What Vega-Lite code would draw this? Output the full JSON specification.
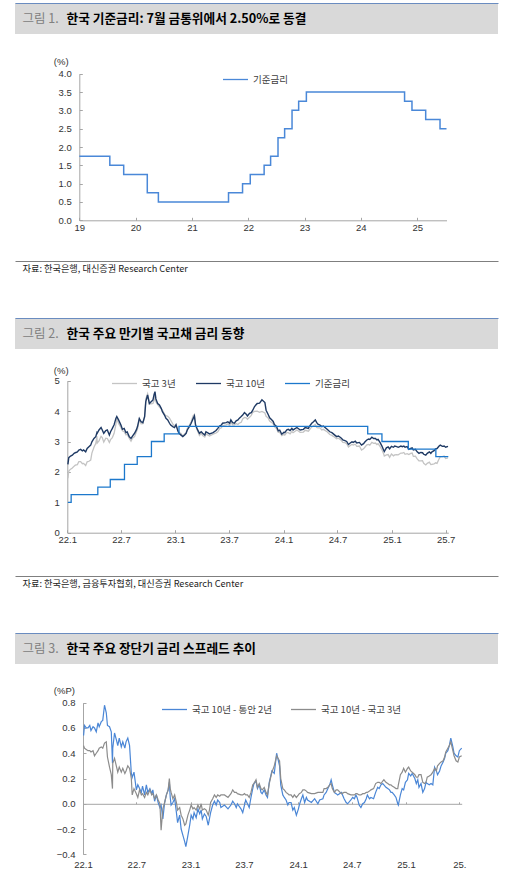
{
  "$schema": "https://vega.github.io/schema/vega-lite/v6.json",
  "padding": {"left": 15, "top": 3, "right": 8, "bottom": 0},
  "bounds": "flush",
  "spacing": 0,
  "resolve": {"scale": {"color": "independent"}, "legend": {"color": "independent"}},
  "config": {
    "view": {"stroke": null},
    "font": "Liberation Sans",
    "axis": {
      "grid": false, "domainColor": "#a6a6a6", "tickColor": "#a6a6a6", "domainWidth": 1, "tickWidth": 1,
      "labelColor": "#333333", "labelFont": "Liberation Sans", "labelFontSize": 9.5,
      "titleFont": "Liberation Sans", "titleFontSize": 9.5, "titleFontWeight": "normal", "titleColor": "#333333",
      "labelFlush": false, "labelOverlap": false
    },
    "legend": {
      "orient": "none", "direction": "horizontal", "title": null, "padding": 0,
      "symbolType": "stroke", "symbolSize": 625, "symbolStrokeWidth": 1.3,
      "labelFont": "Noto Sans CJK KR", "labelFontSize": 9.5, "labelColor": "#404040", "labelOffset": 4
    }
  },
  "datasets": {
    "base1": [
      {"d": "2019-01-01", "v": 1.75}, {"d": "2019-07-18", "v": 1.5}, {"d": "2019-10-16", "v": 1.25},
      {"d": "2020-03-17", "v": 0.75}, {"d": "2020-05-28", "v": 0.5}, {"d": "2021-08-26", "v": 0.75},
      {"d": "2021-11-25", "v": 1.0}, {"d": "2022-01-14", "v": 1.25}, {"d": "2022-04-14", "v": 1.5},
      {"d": "2022-05-26", "v": 1.75}, {"d": "2022-07-13", "v": 2.25}, {"d": "2022-08-25", "v": 2.5},
      {"d": "2022-10-12", "v": 3.0}, {"d": "2022-11-24", "v": 3.25}, {"d": "2023-01-13", "v": 3.5},
      {"d": "2024-10-11", "v": 3.25}, {"d": "2024-11-28", "v": 3.0}, {"d": "2025-02-25", "v": 2.75},
      {"d": "2025-05-29", "v": 2.5}, {"d": "2025-07-10", "v": 2.5}
    ],
    "base2": [
      {"d": "2022-01-03", "v": 1.0}, {"d": "2022-01-14", "v": 1.25}, {"d": "2022-04-14", "v": 1.5},
      {"d": "2022-05-26", "v": 1.75}, {"d": "2022-07-13", "v": 2.25}, {"d": "2022-08-25", "v": 2.5},
      {"d": "2022-10-12", "v": 3.0}, {"d": "2022-11-24", "v": 3.25}, {"d": "2023-01-13", "v": 3.5},
      {"d": "2024-10-11", "v": 3.25}, {"d": "2024-11-28", "v": 3.0}, {"d": "2025-02-25", "v": 2.75},
      {"d": "2025-05-29", "v": 2.5}, {"d": "2025-07-10", "v": 2.5}
    ],
    "bonds": [
      {"d": "2022-01-03", "y10": 2.25, "y3": 1.79, "a": 0.54, "b": 0.46},
      {"d": "2022-01-06", "y10": 2.47, "y3": 2.03, "a": 0.62, "b": 0.44},
      {"d": "2022-01-12", "y10": 2.52, "y3": 2.09, "a": 0.60, "b": 0.43},
      {"d": "2022-01-18", "y10": 2.55, "y3": 2.13, "a": 0.60, "b": 0.42},
      {"d": "2022-01-24", "y10": 2.61, "y3": 2.19, "a": 0.62, "b": 0.42},
      {"d": "2022-01-28", "y10": 2.63, "y3": 2.22, "a": 0.58, "b": 0.41},
      {"d": "2022-02-04", "y10": 2.66, "y3": 2.24, "a": 0.61, "b": 0.42},
      {"d": "2022-02-09", "y10": 2.72, "y3": 2.34, "a": 0.60, "b": 0.38},
      {"d": "2022-02-15", "y10": 2.74, "y3": 2.34, "a": 0.57, "b": 0.40},
      {"d": "2022-02-21", "y10": 2.69, "y3": 2.27, "a": 0.64, "b": 0.42},
      {"d": "2022-02-25", "y10": 2.72, "y3": 2.28, "a": 0.61, "b": 0.44},
      {"d": "2022-03-04", "y10": 2.66, "y3": 2.21, "a": 0.65, "b": 0.45},
      {"d": "2022-03-09", "y10": 2.77, "y3": 2.33, "a": 0.66, "b": 0.44},
      {"d": "2022-03-15", "y10": 2.83, "y3": 2.35, "a": 0.78, "b": 0.48},
      {"d": "2022-03-21", "y10": 2.88, "y3": 2.39, "a": 0.72, "b": 0.49},
      {"d": "2022-03-25", "y10": 2.99, "y3": 2.62, "a": 0.62, "b": 0.37},
      {"d": "2022-04-01", "y10": 3.10, "y3": 2.81, "a": 0.61, "b": 0.29},
      {"d": "2022-04-07", "y10": 3.16, "y3": 2.93, "a": 0.57, "b": 0.23},
      {"d": "2022-04-11", "y10": 3.29, "y3": 3.17, "a": 0.32, "b": 0.12},
      {"d": "2022-04-12", "y10": 3.27, "y3": 2.95, "a": 0.44, "b": 0.32},
      {"d": "2022-04-18", "y10": 3.38, "y3": 3.02, "a": 0.56, "b": 0.36},
      {"d": "2022-04-25", "y10": 3.46, "y3": 3.17, "a": 0.50, "b": 0.29},
      {"d": "2022-04-29", "y10": 3.38, "y3": 3.13, "a": 0.46, "b": 0.25},
      {"d": "2022-05-04", "y10": 3.27, "y3": 2.98, "a": 0.52, "b": 0.29},
      {"d": "2022-05-11", "y10": 3.36, "y3": 3.11, "a": 0.45, "b": 0.25},
      {"d": "2022-05-16", "y10": 3.38, "y3": 3.10, "a": 0.49, "b": 0.28},
      {"d": "2022-05-23", "y10": 3.21, "y3": 2.97, "a": 0.44, "b": 0.24},
      {"d": "2022-05-27", "y10": 3.32, "y3": 3.06, "a": 0.49, "b": 0.26},
      {"d": "2022-06-02", "y10": 3.43, "y3": 3.13, "a": 0.52, "b": 0.30},
      {"d": "2022-06-08", "y10": 3.55, "y3": 3.27, "a": 0.46, "b": 0.28},
      {"d": "2022-06-14", "y10": 3.76, "y3": 3.56, "a": 0.24, "b": 0.20},
      {"d": "2022-06-17", "y10": 3.82, "y3": 3.75, "a": 0.21, "b": 0.07},
      {"d": "2022-06-23", "y10": 3.71, "y3": 3.59, "a": 0.25, "b": 0.12},
      {"d": "2022-07-01", "y10": 3.54, "y3": 3.46, "a": 0.11, "b": 0.08},
      {"d": "2022-07-06", "y10": 3.40, "y3": 3.35, "a": 0.15, "b": 0.05},
      {"d": "2022-07-12", "y10": 3.43, "y3": 3.32, "a": 0.12, "b": 0.11},
      {"d": "2022-07-18", "y10": 3.29, "y3": 3.22, "a": 0.09, "b": 0.07},
      {"d": "2022-07-22", "y10": 3.32, "y3": 3.24, "a": 0.14, "b": 0.08},
      {"d": "2022-07-29", "y10": 3.16, "y3": 3.11, "a": 0.07, "b": 0.05},
      {"d": "2022-08-04", "y10": 3.10, "y3": 3.01, "a": 0.15, "b": 0.09},
      {"d": "2022-08-09", "y10": 3.18, "y3": 3.11, "a": 0.09, "b": 0.07},
      {"d": "2022-08-16", "y10": 3.27, "y3": 3.16, "a": 0.12, "b": 0.11},
      {"d": "2022-08-22", "y10": 3.38, "y3": 3.31, "a": 0.08, "b": 0.07},
      {"d": "2022-08-26", "y10": 3.49, "y3": 3.41, "a": 0.11, "b": 0.08},
      {"d": "2022-09-01", "y10": 3.76, "y3": 3.72, "a": 0.02, "b": 0.04},
      {"d": "2022-09-07", "y10": 3.65, "y3": 3.58, "a": 0.07, "b": 0.07},
      {"d": "2022-09-13", "y10": 3.62, "y3": 3.59, "a": 0.01, "b": 0.03},
      {"d": "2022-09-19", "y10": 3.82, "y3": 3.82, "a": -0.03, "b": 0.00},
      {"d": "2022-09-23", "y10": 4.31, "y3": 4.40, "a": -0.01, "b": -0.21},
      {"d": "2022-09-29", "y10": 4.53, "y3": 4.57, "a": -0.12, "b": -0.04},
      {"d": "2022-10-05", "y10": 4.25, "y3": 4.24, "a": 0.01, "b": 0.01},
      {"d": "2022-10-11", "y10": 4.31, "y3": 4.24, "a": 0.07, "b": 0.07},
      {"d": "2022-10-17", "y10": 4.36, "y3": 4.25, "a": 0.11, "b": 0.11},
      {"d": "2022-10-21", "y10": 4.55, "y3": 4.35, "a": 0.17, "b": 0.20},
      {"d": "2022-10-24", "y10": 4.64, "y3": 4.52, "a": 0.05, "b": 0.12},
      {"d": "2022-10-27", "y10": 4.40, "y3": 4.31, "a": -0.01, "b": 0.09},
      {"d": "2022-11-02", "y10": 4.25, "y3": 4.21, "a": 0.01, "b": 0.04},
      {"d": "2022-11-08", "y10": 4.20, "y3": 4.13, "a": 0.04, "b": 0.07},
      {"d": "2022-11-14", "y10": 4.09, "y3": 4.08, "a": -0.07, "b": 0.01},
      {"d": "2022-11-18", "y10": 3.98, "y3": 4.03, "a": -0.15, "b": -0.05},
      {"d": "2022-11-25", "y10": 3.87, "y3": 3.90, "a": -0.09, "b": -0.03},
      {"d": "2022-11-30", "y10": 3.76, "y3": 3.85, "a": -0.20, "b": -0.09},
      {"d": "2022-12-06", "y10": 3.71, "y3": 3.83, "a": -0.25, "b": -0.12},
      {"d": "2022-12-12", "y10": 3.60, "y3": 3.77, "a": -0.30, "b": -0.17},
      {"d": "2022-12-16", "y10": 3.54, "y3": 3.70, "a": -0.34, "b": -0.16},
      {"d": "2022-12-23", "y10": 3.49, "y3": 3.58, "a": -0.25, "b": -0.09},
      {"d": "2022-12-29", "y10": 3.46, "y3": 3.51, "a": -0.17, "b": -0.05},
      {"d": "2023-01-03", "y10": 3.55, "y3": 3.56, "a": -0.09, "b": -0.01},
      {"d": "2023-01-09", "y10": 3.35, "y3": 3.39, "a": -0.12, "b": -0.04},
      {"d": "2023-01-13", "y10": 3.27, "y3": 3.30, "a": -0.07, "b": -0.03},
      {"d": "2023-01-20", "y10": 3.21, "y3": 3.26, "a": -0.11, "b": -0.05},
      {"d": "2023-01-26", "y10": 3.16, "y3": 3.17, "a": -0.04, "b": -0.01},
      {"d": "2023-02-01", "y10": 3.21, "y3": 3.25, "a": -0.08, "b": -0.04},
      {"d": "2023-02-06", "y10": 3.27, "y3": 3.27, "a": -0.05, "b": 0.00},
      {"d": "2023-02-10", "y10": 3.38, "y3": 3.43, "a": -0.12, "b": -0.05},
      {"d": "2023-02-17", "y10": 3.49, "y3": 3.53, "a": -0.08, "b": -0.04},
      {"d": "2023-02-23", "y10": 3.60, "y3": 3.65, "a": -0.10, "b": -0.05},
      {"d": "2023-03-02", "y10": 3.76, "y3": 3.85, "a": -0.17, "b": -0.09},
      {"d": "2023-03-06", "y10": 3.84, "y3": 3.89, "a": -0.12, "b": -0.05},
      {"d": "2023-03-10", "y10": 3.54, "y3": 3.53, "a": -0.07, "b": 0.01},
      {"d": "2023-03-17", "y10": 3.38, "y3": 3.34, "a": -0.01, "b": 0.04},
      {"d": "2023-03-23", "y10": 3.27, "y3": 3.20, "a": 0.02, "b": 0.07},
      {"d": "2023-03-29", "y10": 3.32, "y3": 3.27, "a": -0.01, "b": 0.05},
      {"d": "2023-04-03", "y10": 3.27, "y3": 3.20, "a": 0.03, "b": 0.07},
      {"d": "2023-04-10", "y10": 3.21, "y3": 3.15, "a": 0.01, "b": 0.06},
      {"d": "2023-04-14", "y10": 3.32, "y3": 3.25, "a": -0.03, "b": 0.07},
      {"d": "2023-04-26", "y10": 3.25, "y3": 3.18, "a": -0.01, "b": 0.07},
      {"d": "2023-05-08", "y10": 3.29, "y3": 3.24, "a": -0.04, "b": 0.05},
      {"d": "2023-05-18", "y10": 3.36, "y3": 3.28, "a": -0.01, "b": 0.08},
      {"d": "2023-05-24", "y10": 3.43, "y3": 3.32, "a": 0.02, "b": 0.11},
      {"d": "2023-05-30", "y10": 3.51, "y3": 3.42, "a": 0.00, "b": 0.09},
      {"d": "2023-06-05", "y10": 3.54, "y3": 3.45, "a": -0.03, "b": 0.09},
      {"d": "2023-06-09", "y10": 3.60, "y3": 3.52, "a": 0.00, "b": 0.08},
      {"d": "2023-06-21", "y10": 3.62, "y3": 3.55, "a": -0.04, "b": 0.07},
      {"d": "2023-06-27", "y10": 3.65, "y3": 3.58, "a": -0.07, "b": 0.07},
      {"d": "2023-07-03", "y10": 3.60, "y3": 3.52, "a": -0.01, "b": 0.08},
      {"d": "2023-07-07", "y10": 3.71, "y3": 3.64, "a": 0.03, "b": 0.07},
      {"d": "2023-07-13", "y10": 3.62, "y3": 3.55, "a": 0.00, "b": 0.07},
      {"d": "2023-07-19", "y10": 3.60, "y3": 3.55, "a": -0.03, "b": 0.05},
      {"d": "2023-07-25", "y10": 3.68, "y3": 3.59, "a": 0.05, "b": 0.09},
      {"d": "2023-07-31", "y10": 3.71, "y3": 3.56, "a": 0.12, "b": 0.15},
      {"d": "2023-08-04", "y10": 3.76, "y3": 3.60, "a": 0.16, "b": 0.16},
      {"d": "2023-08-11", "y10": 3.82, "y3": 3.63, "a": 0.18, "b": 0.19},
      {"d": "2023-08-16", "y10": 3.87, "y3": 3.74, "a": 0.12, "b": 0.13},
      {"d": "2023-08-22", "y10": 3.95, "y3": 3.79, "a": 0.15, "b": 0.16},
      {"d": "2023-08-28", "y10": 3.90, "y3": 3.78, "a": 0.09, "b": 0.12},
      {"d": "2023-09-01", "y10": 3.84, "y3": 3.73, "a": 0.08, "b": 0.11},
      {"d": "2023-09-08", "y10": 3.93, "y3": 3.80, "a": 0.11, "b": 0.13},
      {"d": "2023-09-14", "y10": 3.95, "y3": 3.86, "a": 0.07, "b": 0.09},
      {"d": "2023-09-19", "y10": 4.03, "y3": 3.96, "a": 0.05, "b": 0.07},
      {"d": "2023-09-25", "y10": 4.15, "y3": 3.99, "a": 0.17, "b": 0.16},
      {"d": "2023-10-04", "y10": 4.25, "y3": 4.00, "a": 0.26, "b": 0.25},
      {"d": "2023-10-12", "y10": 4.26, "y3": 3.96, "a": 0.24, "b": 0.30},
      {"d": "2023-10-20", "y10": 4.37, "y3": 3.99, "a": 0.40, "b": 0.38},
      {"d": "2023-10-30", "y10": 4.28, "y3": 3.94, "a": 0.30, "b": 0.34},
      {"d": "2023-11-03", "y10": 4.03, "y3": 3.83, "a": 0.15, "b": 0.20},
      {"d": "2023-11-10", "y10": 3.89, "y3": 3.77, "a": 0.07, "b": 0.12},
      {"d": "2023-11-15", "y10": 3.78, "y3": 3.67, "a": 0.05, "b": 0.11},
      {"d": "2023-11-21", "y10": 3.72, "y3": 3.63, "a": 0.03, "b": 0.09},
      {"d": "2023-11-27", "y10": 3.66, "y3": 3.58, "a": -0.01, "b": 0.08},
      {"d": "2023-12-01", "y10": 3.56, "y3": 3.49, "a": 0.01, "b": 0.07},
      {"d": "2023-12-08", "y10": 3.50, "y3": 3.43, "a": 0.01, "b": 0.07},
      {"d": "2023-12-14", "y10": 3.35, "y3": 3.30, "a": -0.05, "b": 0.05},
      {"d": "2023-12-19", "y10": 3.37, "y3": 3.30, "a": -0.03, "b": 0.07},
      {"d": "2023-12-26", "y10": 3.24, "y3": 3.19, "a": -0.09, "b": 0.05},
      {"d": "2024-01-02", "y10": 3.30, "y3": 3.23, "a": -0.04, "b": 0.07},
      {"d": "2024-01-05", "y10": 3.29, "y3": 3.21, "a": -0.01, "b": 0.08},
      {"d": "2024-01-12", "y10": 3.38, "y3": 3.29, "a": 0.04, "b": 0.09},
      {"d": "2024-01-17", "y10": 3.40, "y3": 3.29, "a": 0.07, "b": 0.11},
      {"d": "2024-01-23", "y10": 3.36, "y3": 3.25, "a": 0.01, "b": 0.11},
      {"d": "2024-01-29", "y10": 3.43, "y3": 3.33, "a": 0.05, "b": 0.10},
      {"d": "2024-02-02", "y10": 3.38, "y3": 3.29, "a": 0.03, "b": 0.09},
      {"d": "2024-02-15", "y10": 3.46, "y3": 3.38, "a": 0.01, "b": 0.08},
      {"d": "2024-02-26", "y10": 3.38, "y3": 3.30, "a": 0.04, "b": 0.08},
      {"d": "2024-03-08", "y10": 3.40, "y3": 3.31, "a": 0.00, "b": 0.09},
      {"d": "2024-03-14", "y10": 3.46, "y3": 3.37, "a": 0.03, "b": 0.09},
      {"d": "2024-03-25", "y10": 3.43, "y3": 3.34, "a": 0.04, "b": 0.09},
      {"d": "2024-03-29", "y10": 3.51, "y3": 3.39, "a": 0.07, "b": 0.12},
      {"d": "2024-04-05", "y10": 3.60, "y3": 3.48, "a": 0.09, "b": 0.12},
      {"d": "2024-04-11", "y10": 3.65, "y3": 3.52, "a": 0.12, "b": 0.13},
      {"d": "2024-04-17", "y10": 3.71, "y3": 3.56, "a": 0.15, "b": 0.15},
      {"d": "2024-04-22", "y10": 3.62, "y3": 3.46, "a": 0.19, "b": 0.16},
      {"d": "2024-04-26", "y10": 3.57, "y3": 3.45, "a": 0.15, "b": 0.12},
      {"d": "2024-05-03", "y10": 3.54, "y3": 3.45, "a": 0.09, "b": 0.09},
      {"d": "2024-05-09", "y10": 3.49, "y3": 3.38, "a": 0.08, "b": 0.11},
      {"d": "2024-05-14", "y10": 3.51, "y3": 3.40, "a": 0.07, "b": 0.11},
      {"d": "2024-05-27", "y10": 3.40, "y3": 3.32, "a": 0.09, "b": 0.08},
      {"d": "2024-06-05", "y10": 3.32, "y3": 3.23, "a": 0.04, "b": 0.09},
      {"d": "2024-06-12", "y10": 3.29, "y3": 3.20, "a": 0.01, "b": 0.09},
      {"d": "2024-06-17", "y10": 3.25, "y3": 3.17, "a": 0.00, "b": 0.08},
      {"d": "2024-06-28", "y10": 3.16, "y3": 3.09, "a": 0.03, "b": 0.07},
      {"d": "2024-07-04", "y10": 3.18, "y3": 3.11, "a": 0.05, "b": 0.07},
      {"d": "2024-07-10", "y10": 3.14, "y3": 3.07, "a": 0.04, "b": 0.07},
      {"d": "2024-07-15", "y10": 3.10, "y3": 3.02, "a": 0.07, "b": 0.08},
      {"d": "2024-07-19", "y10": 3.05, "y3": 2.97, "a": 0.05, "b": 0.08},
      {"d": "2024-07-26", "y10": 3.03, "y3": 2.96, "a": -0.01, "b": 0.07},
      {"d": "2024-08-01", "y10": 3.00, "y3": 2.93, "a": -0.03, "b": 0.07},
      {"d": "2024-08-07", "y10": 2.90, "y3": 2.82, "a": 0.00, "b": 0.08},
      {"d": "2024-08-13", "y10": 2.95, "y3": 2.87, "a": 0.01, "b": 0.08},
      {"d": "2024-08-19", "y10": 2.99, "y3": 2.90, "a": 0.04, "b": 0.09},
      {"d": "2024-08-23", "y10": 2.97, "y3": 2.88, "a": 0.07, "b": 0.09},
      {"d": "2024-08-30", "y10": 3.01, "y3": 2.91, "a": 0.04, "b": 0.10},
      {"d": "2024-09-04", "y10": 2.95, "y3": 2.84, "a": 0.05, "b": 0.11},
      {"d": "2024-09-13", "y10": 2.97, "y3": 2.85, "a": 0.04, "b": 0.12},
      {"d": "2024-09-20", "y10": 2.88, "y3": 2.72, "a": 0.09, "b": 0.16},
      {"d": "2024-09-27", "y10": 2.93, "y3": 2.76, "a": 0.13, "b": 0.17},
      {"d": "2024-10-02", "y10": 2.99, "y3": 2.82, "a": 0.12, "b": 0.17},
      {"d": "2024-10-08", "y10": 3.05, "y3": 2.89, "a": 0.15, "b": 0.16},
      {"d": "2024-10-14", "y10": 3.08, "y3": 2.90, "a": 0.16, "b": 0.18},
      {"d": "2024-10-18", "y10": 3.07, "y3": 2.88, "a": 0.15, "b": 0.19},
      {"d": "2024-10-25", "y10": 3.14, "y3": 2.97, "a": 0.13, "b": 0.17},
      {"d": "2024-10-31", "y10": 3.10, "y3": 2.94, "a": 0.12, "b": 0.16},
      {"d": "2024-11-06", "y10": 3.10, "y3": 2.95, "a": 0.11, "b": 0.15},
      {"d": "2024-11-11", "y10": 3.05, "y3": 2.90, "a": 0.09, "b": 0.15},
      {"d": "2024-11-15", "y10": 3.07, "y3": 2.93, "a": 0.09, "b": 0.14},
      {"d": "2024-11-22", "y10": 2.96, "y3": 2.83, "a": 0.07, "b": 0.13},
      {"d": "2024-11-28", "y10": 2.85, "y3": 2.73, "a": 0.05, "b": 0.12},
      {"d": "2024-12-04", "y10": 2.71, "y3": 2.59, "a": 0.00, "b": 0.12},
      {"d": "2024-12-06", "y10": 2.67, "y3": 2.52, "a": -0.01, "b": 0.15},
      {"d": "2024-12-13", "y10": 2.79, "y3": 2.56, "a": 0.07, "b": 0.23},
      {"d": "2024-12-19", "y10": 2.82, "y3": 2.57, "a": 0.12, "b": 0.25},
      {"d": "2024-12-24", "y10": 2.76, "y3": 2.48, "a": 0.11, "b": 0.28},
      {"d": "2024-12-30", "y10": 2.84, "y3": 2.59, "a": 0.17, "b": 0.25},
      {"d": "2025-01-06", "y10": 2.81, "y3": 2.53, "a": 0.19, "b": 0.28},
      {"d": "2025-01-10", "y10": 2.85, "y3": 2.56, "a": 0.24, "b": 0.29},
      {"d": "2025-01-17", "y10": 2.83, "y3": 2.57, "a": 0.22, "b": 0.26},
      {"d": "2025-01-22", "y10": 2.81, "y3": 2.56, "a": 0.24, "b": 0.25},
      {"d": "2025-01-31", "y10": 2.85, "y3": 2.62, "a": 0.20, "b": 0.23},
      {"d": "2025-02-05", "y10": 2.83, "y3": 2.62, "a": 0.16, "b": 0.21},
      {"d": "2025-02-10", "y10": 2.85, "y3": 2.64, "a": 0.19, "b": 0.21},
      {"d": "2025-02-14", "y10": 2.81, "y3": 2.58, "a": 0.13, "b": 0.23},
      {"d": "2025-02-21", "y10": 2.83, "y3": 2.60, "a": 0.16, "b": 0.23},
      {"d": "2025-02-27", "y10": 2.74, "y3": 2.57, "a": 0.09, "b": 0.17},
      {"d": "2025-03-05", "y10": 2.77, "y3": 2.61, "a": 0.12, "b": 0.16},
      {"d": "2025-03-10", "y10": 2.79, "y3": 2.62, "a": 0.17, "b": 0.17},
      {"d": "2025-03-14", "y10": 2.72, "y3": 2.51, "a": 0.16, "b": 0.21},
      {"d": "2025-03-21", "y10": 2.74, "y3": 2.52, "a": 0.15, "b": 0.22},
      {"d": "2025-03-27", "y10": 2.66, "y3": 2.43, "a": 0.16, "b": 0.23},
      {"d": "2025-04-02", "y10": 2.61, "y3": 2.36, "a": 0.15, "b": 0.25},
      {"d": "2025-04-08", "y10": 2.64, "y3": 2.36, "a": 0.29, "b": 0.28},
      {"d": "2025-04-14", "y10": 2.63, "y3": 2.37, "a": 0.26, "b": 0.26},
      {"d": "2025-04-18", "y10": 2.58, "y3": 2.28, "a": 0.23, "b": 0.30},
      {"d": "2025-04-25", "y10": 2.55, "y3": 2.23, "a": 0.26, "b": 0.32},
      {"d": "2025-04-30", "y10": 2.61, "y3": 2.28, "a": 0.30, "b": 0.33},
      {"d": "2025-05-07", "y10": 2.66, "y3": 2.32, "a": 0.33, "b": 0.34},
      {"d": "2025-05-12", "y10": 2.61, "y3": 2.24, "a": 0.36, "b": 0.37},
      {"d": "2025-05-16", "y10": 2.66, "y3": 2.25, "a": 0.40, "b": 0.41},
      {"d": "2025-05-23", "y10": 2.70, "y3": 2.26, "a": 0.42, "b": 0.44},
      {"d": "2025-05-28", "y10": 2.76, "y3": 2.30, "a": 0.46, "b": 0.46},
      {"d": "2025-06-02", "y10": 2.77, "y3": 2.28, "a": 0.52, "b": 0.49},
      {"d": "2025-06-09", "y10": 2.85, "y3": 2.43, "a": 0.45, "b": 0.42},
      {"d": "2025-06-13", "y10": 2.88, "y3": 2.50, "a": 0.40, "b": 0.38},
      {"d": "2025-06-20", "y10": 2.84, "y3": 2.50, "a": 0.38, "b": 0.34},
      {"d": "2025-06-26", "y10": 2.85, "y3": 2.52, "a": 0.37, "b": 0.33},
      {"d": "2025-07-01", "y10": 2.81, "y3": 2.44, "a": 0.42, "b": 0.37},
      {"d": "2025-07-09", "y10": 2.84, "y3": 2.46, "a": 0.44, "b": 0.38}
    ]
  },
  "vconcat": [
    {
      "width": 483, "height": 31,
      "view": {"fill": "#d9d9d9", "stroke": null},
      "data": {"values": []},
      "mark": {"type": "rule"},
      "encoding": {
        "x": {"field": "t", "type": "quantitative", "scale": {"domain": [0, 1]},
          "axis": {"orient": "top", "domain": true, "domainColor": "#6a8cc0", "ticks": false, "labels": false,
            "title": "한국 기준금리: 7월 금통위에서 2.50%로 동결", "titleX": 51, "titleY": 15.5, "titleAlign": "left", "titleBaseline": "middle",
            "titleFont": "Noto Sans CJK KR", "titleFontSize": 12.7, "titleFontWeight": "bold", "titleColor": "#000000"}},
        "y": {"field": "t", "type": "quantitative", "scale": {"domain": [0, 1]},
          "axis": {"domain": false, "ticks": false, "labels": false,
            "title": "그림 1.", "titleAngle": 0, "titleX": 7, "titleY": 15.5, "titleAlign": "left", "titleBaseline": "middle",
            "titleFont": "Noto Sans CJK KR", "titleFontSize": 12.5, "titleFontWeight": "normal", "titleColor": "#808080"}}
      }
    },
    {
      "width": 483, "height": 227,
      "data": {"name": "base1"},
      "mark": {"type": "line", "interpolate": "step-after", "strokeWidth": 1.5},
      "encoding": {
        "x": {"field": "d", "type": "temporal",
          "scale": {"domain": [{"year": 2019, "month": 1, "date": 1}, {"year": 2025, "month": 7, "date": 10}], "range": [64.3, 431.5]},
          "axis": {"offset": -40.7, "format": "%y", "tickSize": -3, "labelPadding": 5, "title": null,
            "values": [{"year": 2019, "month": 1, "date": 1}, {"year": 2020, "month": 1, "date": 1}, {"year": 2021, "month": 1, "date": 1}, {"year": 2022, "month": 1, "date": 1}, {"year": 2023, "month": 1, "date": 1}, {"year": 2024, "month": 1, "date": 1}, {"year": 2025, "month": 1, "date": 1}]}},
        "y": {"field": "v", "type": "quantitative",
          "scale": {"domain": [0, 4], "range": [186.3, 39.7]},
          "axis": {"offset": -64.3, "values": [0, 0.5, 1, 1.5, 2, 2.5, 3, 3.5, 4], "format": ".1f", "tickSize": -3, "labelPadding": 11,
            "title": "(%)", "titleAngle": 0, "titleAlign": "left", "titleBaseline": "middle", "titleX": -26, "titleY": 27}},
        "color": {"datum": "기준금리", "type": "nominal", "scale": {"domain": ["기준금리"], "range": ["#4a88d8"]},
          "legend": {"legendX": 207, "legendY": 32}}
      }
    },
    {
      "width": 483, "height": 57,
      "data": {"values": []},
      "mark": {"type": "rule"},
      "encoding": {
        "x": {"field": "t", "type": "quantitative", "scale": {"domain": [0, 1]},
          "axis": {"orient": "top", "domainColor": "#7f7f7f", "ticks": false, "labels": false,
            "title": "자료: 한국은행, 대신증권 Research Center", "titleX": 7, "titleY": 7.5, "titleAlign": "left", "titleBaseline": "middle",
            "titleFont": "Noto Sans CJK KR", "titleFontSize": 9.2, "titleColor": "#222222"}}
      }
    },
    {
      "width": 483, "height": 31,
      "view": {"fill": "#d9d9d9", "stroke": null},
      "data": {"values": []},
      "mark": {"type": "rule"},
      "encoding": {
        "x": {"field": "t", "type": "quantitative", "scale": {"domain": [0, 1]},
          "axis": {"orient": "top", "domain": true, "domainColor": "#6a8cc0", "ticks": false, "labels": false,
            "title": "한국 주요 만기별 국고채 금리 동향", "titleX": 51, "titleY": 15.5, "titleAlign": "left", "titleBaseline": "middle",
            "titleFont": "Noto Sans CJK KR", "titleFontSize": 12.7, "titleFontWeight": "bold", "titleColor": "#000000"}},
        "y": {"field": "t", "type": "quantitative", "scale": {"domain": [0, 1]},
          "axis": {"domain": false, "ticks": false, "labels": false,
            "title": "그림 2.", "titleAngle": 0, "titleX": 7, "titleY": 15.5, "titleAlign": "left", "titleBaseline": "middle",
            "titleFont": "Noto Sans CJK KR", "titleFontSize": 12.5, "titleFontWeight": "normal", "titleColor": "#808080"}}
      }
    },
    {
      "width": 483, "height": 227,
      "encoding": {
        "x": {"field": "d", "type": "temporal",
          "scale": {"domain": [{"year": 2022, "month": 1, "date": 1}, {"year": 2025, "month": 7, "date": 10}], "range": [52.3, 433.3]},
          "axis": {"offset": -43.3, "format": "%y.%-m", "tickSize": -3, "labelPadding": 5, "title": null,
            "values": [{"year": 2022, "month": 1, "date": 1}, {"year": 2022, "month": 7, "date": 1}, {"year": 2023, "month": 1, "date": 1}, {"year": 2023, "month": 7, "date": 1}, {"year": 2024, "month": 1, "date": 1}, {"year": 2024, "month": 7, "date": 1}, {"year": 2025, "month": 1, "date": 1}, {"year": 2025, "month": 7, "date": 1}]}}
      },
      "layer": [
        {
          "data": {"name": "bonds"},
          "mark": {"type": "line", "strokeWidth": 1.3},
          "encoding": {
            "y": {"field": "y3", "type": "quantitative", "scale": {"domain": [0, 5], "range": [183.7, 31.7]},
              "axis": {"offset": -52.3, "values": [0, 1, 2, 3, 4, 5], "format": "d", "tickSize": -3, "labelPadding": 11,
                "title": "(%)", "titleAngle": 0, "titleAlign": "left", "titleBaseline": "middle", "titleX": -14, "titleY": 21}},
            "color": {"datum": "국고 3년", "type": "nominal",
              "scale": {"domain": ["국고 3년", "국고 10년", "기준금리"], "range": ["#c4c4c4", "#1f3a64", "#1c78cc"]},
              "legend": {"legendX": 96, "legendY": 21, "columnPadding": 17}}
          }
        },
        {
          "data": {"name": "bonds"},
          "mark": {"type": "line", "strokeWidth": 1.4},
          "encoding": {
            "y": {"field": "y10", "type": "quantitative", "scale": {"domain": [0, 5], "range": [183.7, 31.7]},
              "axis": {"offset": -52.3, "values": [0, 1, 2, 3, 4, 5], "format": "d", "tickSize": -3, "labelPadding": 11,
                "title": "(%)", "titleAngle": 0, "titleAlign": "left", "titleBaseline": "middle", "titleX": -14, "titleY": 21}},
            "color": {"datum": "국고 10년", "type": "nominal"}
          }
        },
        {
          "data": {"name": "base2"},
          "mark": {"type": "line", "interpolate": "step-after", "strokeWidth": 1.3},
          "encoding": {
            "y": {"field": "v", "type": "quantitative", "scale": {"domain": [0, 5], "range": [183.7, 31.7]},
              "axis": {"offset": -52.3, "values": [0, 1, 2, 3, 4, 5], "format": "d", "tickSize": -3, "labelPadding": 11,
                "title": "(%)", "titleAngle": 0, "titleAlign": "left", "titleBaseline": "middle", "titleX": -14, "titleY": 21}},
            "color": {"datum": "기준금리", "type": "nominal"}
          }
        }
      ]
    },
    {
      "width": 483, "height": 57,
      "data": {"values": []},
      "mark": {"type": "rule"},
      "encoding": {
        "x": {"field": "t", "type": "quantitative", "scale": {"domain": [0, 1]},
          "axis": {"orient": "top", "domainColor": "#7f7f7f", "ticks": false, "labels": false,
            "title": "자료: 한국은행, 금융투자협회, 대신증권 Research Center", "titleX": 7, "titleY": 7.5, "titleAlign": "left", "titleBaseline": "middle",
            "titleFont": "Noto Sans CJK KR", "titleFontSize": 9.2, "titleColor": "#222222"}}
      }
    },
    {
      "width": 483, "height": 31,
      "view": {"fill": "#d9d9d9", "stroke": null},
      "data": {"values": []},
      "mark": {"type": "rule"},
      "encoding": {
        "x": {"field": "t", "type": "quantitative", "scale": {"domain": [0, 1]},
          "axis": {"orient": "top", "domain": true, "domainColor": "#6a8cc0", "ticks": false, "labels": false,
            "title": "한국 주요 장단기 금리 스프레드 추이", "titleX": 51, "titleY": 15.5, "titleAlign": "left", "titleBaseline": "middle",
            "titleFont": "Noto Sans CJK KR", "titleFontSize": 12.7, "titleFontWeight": "bold", "titleColor": "#000000"}},
        "y": {"field": "t", "type": "quantitative", "scale": {"domain": [0, 1]},
          "axis": {"domain": false, "ticks": false, "labels": false,
            "title": "그림 3.", "titleAngle": 0, "titleX": 7, "titleY": 15.5, "titleAlign": "left", "titleBaseline": "middle",
            "titleFont": "Noto Sans CJK KR", "titleFontSize": 12.5, "titleFontWeight": "normal", "titleColor": "#808080"}}
      }
    },
    {
      "width": 483, "height": 225,
      "data": {"name": "bonds"},
      "resolve": {"axis": {"x": "independent"}},
      "layer": [
        {
          "mark": {"type": "line", "strokeWidth": 1.2},
          "encoding": {
            "x": {"field": "d", "type": "temporal",
              "scale": {"domain": [{"year": 2022, "month": 1, "date": 1}, {"year": 2025, "month": 7, "date": 9}], "range": [68, 446.7]},
              "axis": {"offset": -34.7, "domain": false, "ticks": false, "labelPadding": 5, "title": null,
                "labelExpr": "datum.index == 1 ? '25.' : timeFormat(datum.value, '%y.%-m')",
                "values": [{"year": 2022, "month": 1, "date": 1}, {"year": 2022, "month": 7, "date": 1}, {"year": 2023, "month": 1, "date": 1}, {"year": 2023, "month": 7, "date": 1}, {"year": 2024, "month": 1, "date": 1}, {"year": 2024, "month": 7, "date": 1}, {"year": 2025, "month": 1, "date": 1}, {"year": 2025, "month": 7, "date": 1}]}},
            "y": {"field": "a", "type": "quantitative", "scale": {"domain": [-0.4, 0.8], "range": [190.3, 38.7]},
              "axis": {"offset": -68, "values": [-0.4, -0.2, 0, 0.2, 0.4, 0.6, 0.8], "format": ".1f", "tickSize": -3, "labelPadding": 11,
                "title": "(%P)", "titleAngle": 0, "titleAlign": "left", "titleBaseline": "middle", "titleX": -29.7, "titleY": 26.7}},
            "color": {"datum": "국고 10년 - 통안 2년", "type": "nominal",
              "scale": {"domain": ["국고 10년 - 통안 2년", "국고 10년 - 국고 3년"], "range": ["#4a86d6", "#8c8c8c"]},
              "legend": {"legendX": 146, "legendY": 32, "columnPadding": 15}}
          }
        },
        {
          "mark": {"type": "line", "strokeWidth": 1.2},
          "encoding": {
            "x": {"field": "d", "type": "temporal",
              "scale": {"domain": [{"year": 2022, "month": 1, "date": 1}, {"year": 2025, "month": 7, "date": 9}], "range": [68, 446.7]},
              "axis": {"orient": "top", "offset": -139.8, "domain": true, "ticks": true, "tickSize": 2, "labels": false, "title": null,
                "values": [{"year": 2022, "month": 1, "date": 1}, {"year": 2022, "month": 7, "date": 1}, {"year": 2023, "month": 1, "date": 1}, {"year": 2023, "month": 7, "date": 1}, {"year": 2024, "month": 1, "date": 1}, {"year": 2024, "month": 7, "date": 1}, {"year": 2025, "month": 1, "date": 1}, {"year": 2025, "month": 7, "date": 1}]}},
            "y": {"field": "b", "type": "quantitative", "scale": {"domain": [-0.4, 0.8], "range": [190.3, 38.7]},
              "axis": {"offset": -68, "values": [-0.4, -0.2, 0, 0.2, 0.4, 0.6, 0.8], "format": ".1f", "tickSize": -3, "labelPadding": 11,
                "title": "(%P)", "titleAngle": 0, "titleAlign": "left", "titleBaseline": "middle", "titleX": -29.7, "titleY": 26.7}},
            "color": {"datum": "국고 10년 - 국고 3년", "type": "nominal"}
          }
        }
      ]
    }
  ]
}
